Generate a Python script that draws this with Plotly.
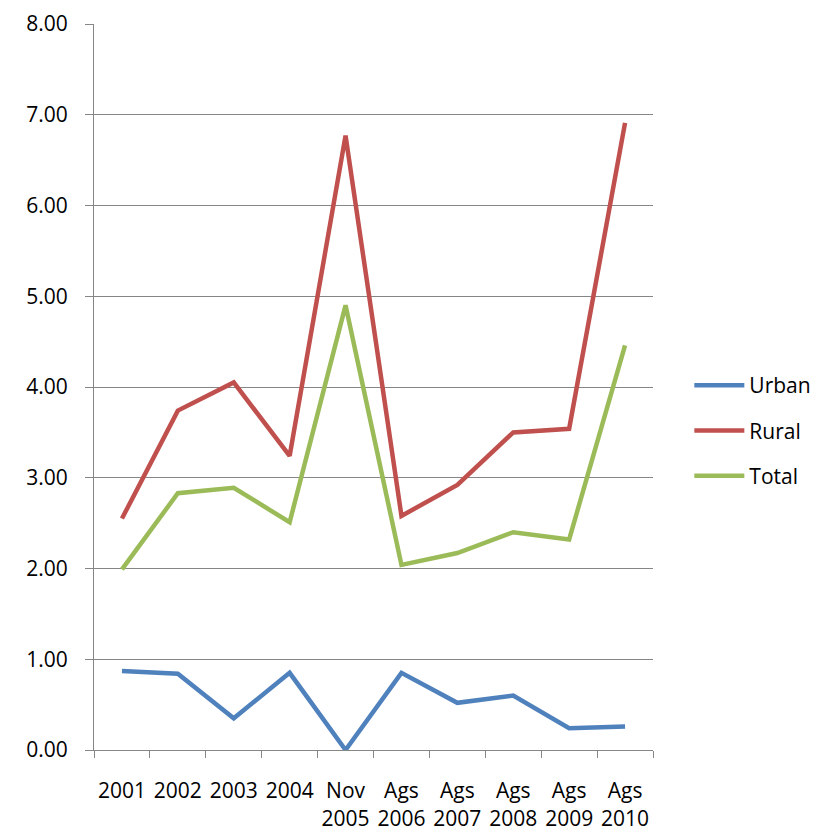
import plotly.graph_objects as go

categories = ["2001", "2002", "2003", "2004", "Nov<br>2005", "Ags<br>2006",
              "Ags<br>2007", "Ags<br>2008", "Ags<br>2009", "Ags<br>2010"]
urban = [0.87, 0.84, 0.35, 0.85, 0.00, 0.85, 0.52, 0.60, 0.24, 0.26]
rural = [2.55, 3.74, 4.05, 3.24, 6.77, 2.58, 2.92, 3.50, 3.54, 6.91]
total = [1.99, 2.83, 2.89, 2.51, 4.90, 2.04, 2.17, 2.40, 2.32, 4.46]

series = [("Urban", urban, "#4F81BD"), ("Rural", rural, "#C0504D"), ("Total", total, "#9BBB59")]

fig = go.Figure()
for name, vals, col in series:
    fig.add_trace(go.Scatter(x=categories, y=vals, name=name, mode="lines",
                             line=dict(color=col, width=4.5), legendgroup=name,
                             cliponaxis=False))

font = dict(family="Open Sans, Noto Sans, sans-serif", size=21, color="black")
fig.update_layout(
    width=823, height=838,
    margin=dict(l=86, r=178, t=16, b=96),
    paper_bgcolor="white", plot_bgcolor="white",
    font=font,
    showlegend=True,
    legend=dict(x=1.065, xanchor="left", y=0.44, yanchor="middle",
                tracegroupgap=15, itemwidth=50, font=dict(size=21),
                traceorder="grouped"),
    xaxis=dict(type="category", range=[-0.5, 9.5], showgrid=False, showline=True,
               linecolor="#868686", linewidth=1, ticks="outside", tickson="boundaries",
               ticklen=7, tickcolor="#868686", tickangle=0, tickfont=dict(size=21),
               automargin=False, ticklabelstandoff=22, ticklabeloverflow="allow"),
    yaxis=dict(range=[0, 8], dtick=1, tickformat=".2f", showgrid=True,
               gridcolor="#868686", gridwidth=1, showline=True, linecolor="#868686",
               linewidth=1, ticks="outside", ticklen=8, tickcolor="#868686",
               zeroline=False, tickfont=dict(size=21), automargin=False,
               ticklabelstandoff=13, ticklabeloverflow="allow"),
)
fig.write_html("out.html")
